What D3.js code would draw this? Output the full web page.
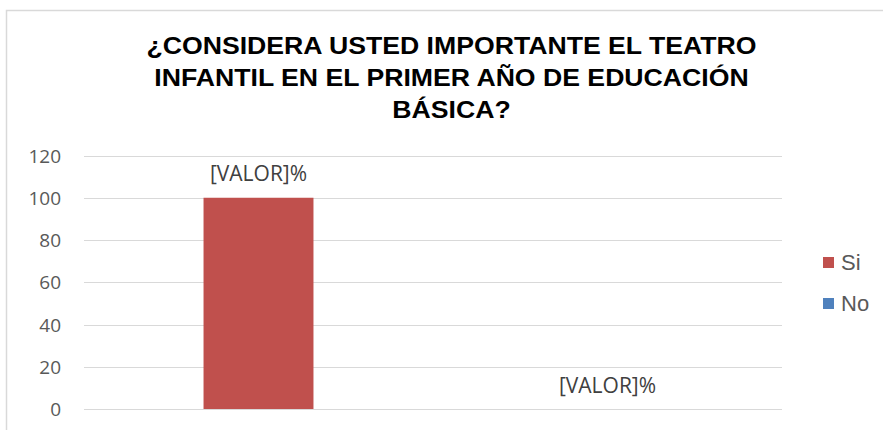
<!DOCTYPE html>
<html>
<head>
<meta charset="utf-8">
<script src="https://cdn.jsdelivr.net/npm/d3@7"></script>
<style>
  html, body { margin: 0; padding: 0; background: #fff; }
  svg { display: block; }
</style>
</head>
<body>
<svg id="chart" width="883" height="430"></svg>
<script>
const titleLines = ["¿CONSIDERA USTED IMPORTANTE EL TEATRO", "INFANTIL EN EL PRIMER AÑO DE EDUCACIÓN", "BÁSICA?"];
const categories = ["Si", "No"];
const values = [100, 0];
const dataLabels = ["[VALOR]%", "[VALOR]%"];
const seriesColors = ["#C0504D", "#4F81BD"];
const yTicks = [0, 20, 40, 60, 80, 100, 120];

const svg = d3.select("#chart");

// chart area border
svg.append("rect")
  .attr("x", 6.5).attr("y", 10.5)
  .attr("width", 900).attr("height", 440)
  .attr("fill", "none").attr("stroke", "#d9d9d9").attr("stroke-width", 1.5);

// title
svg.append("text")
  .attr("transform", "translate(451.5,0) scale(1.11,1)")
  .attr("text-anchor", "middle")
  .attr("font-family", "'Liberation Sans', Arial, sans-serif")
  .attr("font-weight", "bold")
  .attr("font-size", 24)
  .attr("fill", "#000")
  .selectAll("tspan").data(titleLines).join("tspan")
  .attr("x", 0)
  .attr("y", (d, i) => 54.5 + i * 32)
  .text(d => d);

const x = d3.scaleBand().domain(categories).range([84, 782])
  .paddingInner(0.685).paddingOuter(0.3425);
const y = d3.scaleLinear().domain([0, 120]).range([409, 155.5]);

// gridlines
svg.append("g").selectAll("line").data(yTicks).join("line")
  .attr("x1", 84).attr("x2", 782)
  .attr("y1", d => Math.round(y(d)) + 0.5).attr("y2", d => Math.round(y(d)) + 0.5)
  .attr("stroke", "#d9d9d9").attr("stroke-width", 1);

// y axis labels
const yAxis = d3.axisLeft(y).tickValues(yTicks).tickSize(0).tickPadding(0);
const ga = svg.append("g").attr("transform", "translate(61,0)").call(yAxis);
ga.select(".domain").remove();
ga.selectAll("text")
  .attr("font-family", "'Open Sans', sans-serif")
  .attr("font-size", 19)
  .attr("fill", "#595959")
  .attr("dy", "0.35em");

// bars
svg.append("g").selectAll("rect").data(categories).join("rect")
  .attr("x", d => x(d))
  .attr("width", x.bandwidth())
  .attr("y", (d, i) => y(values[i]))
  .attr("height", (d, i) => y(0) - y(values[i]))
  .attr("fill", (d, i) => seriesColors[i]);

// data labels
svg.append("g").selectAll("text").data(categories).join("text")
  .attr("x", d => x(d) + x.bandwidth() / 2)
  .attr("y", (d, i) => y(values[i]) - 16.5)
  .attr("text-anchor", "middle")
  .attr("font-family", "'Open Sans', sans-serif")
  .attr("font-size", 21)
  .attr("fill", "#404040")
  .text((d, i) => dataLabels[i]);

// legend
const lg = svg.append("g").selectAll("g").data(categories).join("g")
  .attr("transform", (d, i) => `translate(823,${257 + i * 41})`);
lg.append("rect").attr("width", 11).attr("height", 11)
  .attr("fill", (d, i) => seriesColors[i]);
lg.append("text")
  .attr("x", 18).attr("y", 5.5).attr("dy", "0.36em")
  .attr("font-family", "'Liberation Sans', Arial, sans-serif")
  .attr("font-size", 22)
  .attr("fill", "#595959")
  .text(d => d);
</script>
</body>
</html>
